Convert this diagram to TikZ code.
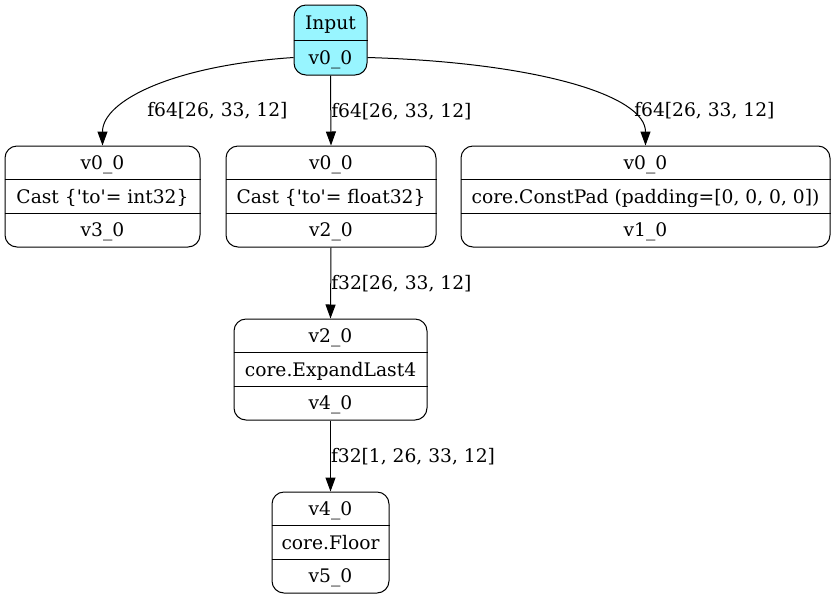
\documentclass[tikz,border=0pt]{standalone}
\usepackage{fontspec}
\setmainfont{DejaVu Serif}
\usetikzlibrary{arrows.meta}
\definecolor{inputcyan}{RGB}{152,245,255}
\tikzset{
	rec/.style={draw, rounded corners=9pt, line width=0.75pt, inner sep=0pt},
	txt/.style={inner sep=0pt, text height=12pt, text depth=2pt},
	edge/.style={-{Triangle[length=10.5pt,width=7.5pt]}, line width=0.75pt},
	lbl/.style={txt, anchor=west},
}

\begin{document}
\begin{tikzpicture}[x=0.75pt,y=-0.75pt,font=\fontsize{14}{16}\selectfont]
	\useasboundingbox (0,0) rectangle (836,601);
	\def\row{25.25pt}

	% input record
	\node[rec, fill=inputcyan, minimum width=54.75pt, minimum height=52.5pt] (input) at (330.5,40) {};
	\draw (input.west) -- (input.east);
	\node[txt] (input-a) at ([yshift=13.125pt]input.center) {Input};
	\node[txt] (input-b) at ([yshift=-13.125pt]input.center) {v0\_0};

	% operation records
	\foreach \nm/\x/\y/\w/\ta/\tb/\tc in {
		castint/102.5/196.5/195/{v0\_0}/{Cast \{\textquotesingle to\textquotesingle= int32\}}/{v3\_0},
		castflt/331/196.5/210/{v0\_0}/{Cast \{\textquotesingle to\textquotesingle= float32\}}/{v2\_0},
		constpad/645.5/196.5/369/{v0\_0}/{core.ConstPad (padding=[0, 0, 0, 0])}/{v1\_0},
		expand/330.5/369.5/193/{v2\_0}/{core.ExpandLast4}/{v4\_0},
		floor/330.5/542.5/117/{v4\_0}/{core.Floor}/{v5\_0}}
	{
		\node[rec, minimum width=\w*0.75pt, minimum height=75.75pt] (\nm) at (\x,\y) {};
		\draw ([yshift=0.5*\row]\nm.west) -- ([yshift=0.5*\row]\nm.east);
		\draw ([yshift=-0.5*\row]\nm.west) -- ([yshift=-0.5*\row]\nm.east);
		\node[txt] (\nm-a) at ([yshift=\row]\nm.center) {\ta};
		\node[txt] (\nm-b) at (\nm.center) {\tb};
		\node[txt] (\nm-c) at ([yshift=-\row]\nm.center) {\tc};
	}

	% edges
	\draw[edge] ([yshift=-13.125pt]input.west) .. controls +(-120,8) and +(0,-45) .. (castint.north);
	\node[lbl] (lbl-int) at (147,110) {f64[26, 33, 12]};
	\draw[edge] (input.south) -- (castflt.north) node[lbl, midway] (lbl-flt) {f64[26, 33, 12]};
	\draw[edge] ([yshift=-13.125pt]input.east) .. controls +(170,5) and +(0,-50) .. (constpad.north);
	\node[lbl] (lbl-pad) at (634,110) {f64[26, 33, 12]};
	\draw[edge] (castflt.south) -- (expand.north) node[lbl, midway] (lbl-exp) {f32[26, 33, 12]};
	\draw[edge] (expand.south) -- (floor.north) node[lbl, midway] (lbl-floor) {f32[1, 26, 33, 12]};
\end{tikzpicture}
\end{document}
